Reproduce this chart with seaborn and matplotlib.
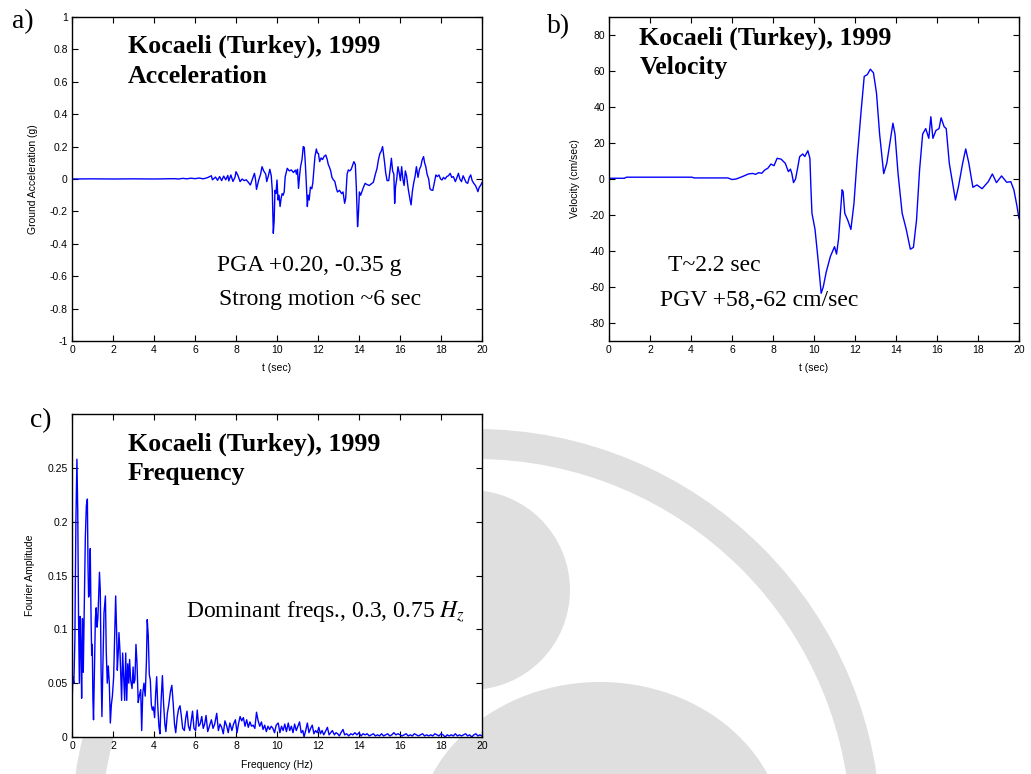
import matplotlib
matplotlib.use("Agg")
import matplotlib.pyplot as plt
from matplotlib.patches import Circle, Ellipse
import numpy as np
import seaborn as sns

# ---------------- data ----------------
# Ground acceleration record (g) against time (s)
t_acc = [0.0, 1.0, 2.0, 3.0, 4.0, 5.0, 5.2, 5.4, 5.6, 5.8, 6.0, 6.2, 6.4, 6.6, 6.8, 6.85,
         7.0, 7.1, 7.2, 7.3, 7.4, 7.5, 7.6, 7.65, 7.75, 7.85, 7.95, 8.0, 8.1, 8.2, 8.3, 8.4,
         8.5, 8.6, 8.7, 8.8, 8.9, 8.95, 9.0, 9.1, 9.2, 9.27, 9.35, 9.45, 9.5, 9.58, 9.65, 9.72,
         9.77, 9.82, 9.86, 9.9, 9.95, 10.0, 10.05, 10.1, 10.15, 10.2, 10.25, 10.3, 10.35, 10.4,
         10.45, 10.5, 10.6, 10.7, 10.8, 10.9, 10.95, 11.0, 11.05, 11.1, 11.15, 11.22, 11.28,
         11.33, 11.38, 11.42, 11.48, 11.52, 11.57, 11.63, 11.7, 11.75, 11.8, 11.85, 11.92,
         11.97, 12.02, 12.08, 12.15, 12.22, 12.3, 12.38, 12.45, 12.5, 12.55, 12.62, 12.68,
         12.75, 12.82, 12.9, 12.95, 13.05, 13.15, 13.22, 13.3, 13.35, 13.42, 13.48, 13.55,
         13.62, 13.7, 13.75, 13.82, 13.87, 13.93, 13.97, 14.02, 14.08, 14.15, 14.22, 14.3,
         14.4, 14.5, 14.6, 14.7, 14.8, 14.88, 14.95, 15.02, 15.08, 15.15, 15.2, 15.25, 15.3,
         15.37, 15.45, 15.52, 15.58, 15.64, 15.7, 15.74, 15.78, 15.84, 15.9, 15.96, 16.02,
         16.08, 16.14, 16.2, 16.26, 16.32, 16.4, 16.48, 16.54, 16.6, 16.66, 16.74, 16.8,
         16.88, 16.95, 17.02, 17.08, 17.15, 17.2, 17.26, 17.32, 17.4, 17.46, 17.52, 17.6,
         17.68, 17.75, 17.82, 17.9, 17.98, 18.05, 18.12, 18.2, 18.28, 18.36, 18.45, 18.52,
         18.6, 18.7, 18.78, 18.85, 18.92, 19.0, 19.08, 19.15, 19.22, 19.3, 19.38, 19.45,
         19.52, 19.6, 19.68, 19.75, 19.8, 19.87, 19.93, 20.0]
acc_g = [0.0, 0.001, 0.0, 0.001, 0.0, 0.002, 0.0, 0.004, 0.001, 0.005, 0.002, 0.006, 0.001,
         0.008, 0.02, -0.005, 0.012, -0.008, 0.015, -0.01, 0.018, -0.005, 0.022, -0.012,
         0.025, -0.015, 0.01, 0.045, 0.02, -0.016, 0.0, -0.01, -0.005, -0.02, -0.037, 0.0,
         0.035, 0.0, -0.064, -0.01, 0.03, 0.076, 0.05, 0.03, -0.016, 0.02, 0.06, 0.02, -0.07,
         -0.335, -0.26, -0.07, -0.09, -0.006, -0.13, -0.1, -0.17, -0.12, -0.09, -0.1, -0.08,
         0.014, 0.04, 0.066, 0.05, 0.056, 0.04, 0.055, 0.03, 0.06, -0.058, 0.02, 0.076, 0.12,
         0.2, 0.195, 0.1, 0.0, -0.17, -0.1, -0.13, -0.05, -0.06, -0.02, 0.06, 0.138, 0.185,
         0.16, 0.158, 0.107, 0.13, 0.12, 0.14, 0.148, 0.12, 0.09, 0.076, 0.05, 0.01, -0.005,
         -0.015, -0.06, -0.08, -0.07, -0.09, -0.08, -0.15, -0.12, 0.03, 0.056, 0.05, 0.06,
         0.09, 0.107, 0.09, -0.05, -0.294, -0.22, -0.08, -0.1, -0.075, -0.05, -0.027, -0.035,
         -0.04, -0.03, -0.02, 0.03, 0.066, 0.12, 0.158, 0.17, 0.2, 0.15, 0.1, 0.04, -0.01,
         -0.01, 0.06, 0.128, 0.05, 0.03, -0.15, -0.05, 0.0, 0.076, 0.04, -0.01, 0.076, 0.0,
         -0.04, 0.05, 0.02, -0.06, -0.12, -0.16, -0.08, -0.03, 0.02, 0.076, 0.01, 0.06, 0.08,
         0.117, 0.138, 0.1, 0.076, 0.03, 0.0, -0.06, -0.068, -0.07, -0.02, 0.025, 0.015,
         0.025, 0.0, -0.006, 0.01, 0.0, 0.015, 0.02, 0.035, 0.01, 0.015, -0.016, 0.01, 0.035,
         0.0, -0.016, 0.02, 0.0, -0.02, -0.027, 0.01, 0.025, -0.01, -0.027, -0.04, -0.06,
         -0.078, -0.05, -0.04, -0.022]

# Ground velocity (cm/s) against time (s)
t_vel = [0.0, 0.75, 0.85, 4.05, 4.15, 5.8, 6.0, 6.2, 6.5, 6.8, 7.0, 7.15, 7.3, 7.45, 7.6,
         7.75, 7.9, 8.05, 8.2, 8.4, 8.6, 8.75, 8.85, 8.92, 9.0, 9.1, 9.2, 9.3, 9.45, 9.55,
         9.7, 9.8, 9.85, 9.9, 10.05, 10.2, 10.35, 10.45, 10.6, 10.8, 10.95, 11.0, 11.1, 11.2,
         11.3, 11.37, 11.42, 11.5, 11.65, 11.8, 11.95, 12.1, 12.3, 12.45, 12.6, 12.75, 12.9,
         13.05, 13.2, 13.4, 13.55, 13.7, 13.85, 13.95, 14.1, 14.3, 14.5, 14.7, 14.85, 15.0,
         15.15, 15.3, 15.45, 15.6, 15.7, 15.8, 15.95, 16.1, 16.2, 16.35, 16.45, 16.6, 16.75,
         16.9, 17.05, 17.25, 17.4, 17.55, 17.75, 17.95, 18.2, 18.5, 18.7, 18.9, 19.15, 19.4,
         19.6, 19.75, 19.9, 20.0]
vel_cms = [0.4, 0.4, 1.0, 1.0, 0.6, 0.6, -0.3, 0.0, 1.3, 2.8, 3.1, 2.6, 3.5, 3.2, 5.0,
           6.0, 8.3, 7.4, 11.5, 11.0, 8.7, 4.1, 5.5, 3.0, -2.0, 0.0, 6.0, 12.4, 13.9, 12.5,
           15.7, 11.5, -5.0, -19.0, -28.0, -45.0, -63.5, -60.0, -51.5, -43.0, -39.0, -37.6,
           -41.7, -33.0, -17.0, -6.0, -7.0, -19.0, -23.0, -28.0, -13.5, 10.6, 38.0, 57.0,
           58.0, 61.0, 59.0, 47.6, 25.0, 3.0, 8.7, 19.8, 31.0, 25.0, 3.0, -19.0, -28.0,
           -39.0, -38.0, -23.0, 5.0, 25.0, 28.0, 22.6, 34.6, 22.6, 27.0, 28.0, 34.0, 29.0,
           28.0, 8.7, -1.5, -11.7, -4.0, 8.7, 16.7, 9.0, -4.6, -3.3, -5.4, -1.5, 2.8, -2.0,
           1.7, -1.8, -1.5, -6.0, -15.0, -22.0]

# Fourier amplitude spectrum of the acceleration record
freq_hz = [0.00, 0.04, 0.09, 0.14, 0.19, 0.24, 0.28, 0.32, 0.36, 0.40, 0.44, 0.47, 0.51,
           0.55, 0.60, 0.65, 0.70, 0.75, 0.78, 0.81, 0.85, 0.89, 0.93, 0.96, 0.99, 1.02,
           1.05, 1.09, 1.14, 1.18, 1.22, 1.26, 1.30, 1.34, 1.38, 1.42, 1.46, 1.50, 1.56,
           1.63, 1.67, 1.72, 1.77, 1.82, 1.87, 1.92, 1.97, 2.03, 2.08, 2.13, 2.18, 2.21,
           2.26, 2.29, 2.34, 2.39, 2.42, 2.47, 2.52, 2.57, 2.62, 2.67, 2.72, 2.77, 2.81,
           2.86, 2.93, 2.98, 3.02, 3.07, 3.12, 3.17, 3.23, 3.28, 3.35, 3.40, 3.45, 3.51,
           3.57, 3.63, 3.67, 3.72, 3.77, 3.82, 3.87, 3.92, 3.97, 4.03, 4.08, 4.13, 4.18,
           4.24, 4.29, 4.35, 4.41, 4.47, 4.53, 4.58, 4.65, 4.72, 4.80, 4.87, 4.94, 5.00,
           5.06, 5.13, 5.20, 5.27, 5.33, 5.40, 5.48, 5.55, 5.61, 5.68, 5.75, 5.82, 5.88,
           5.95, 6.03, 6.11, 6.18, 6.25, 6.33, 6.40, 6.47, 6.54, 6.62, 6.70, 6.80, 6.88,
           6.96, 7.06, 7.14, 7.22, 7.30, 7.38, 7.46, 7.55, 7.62, 7.70, 7.80, 7.88, 7.97,
           8.05, 8.12, 8.20, 8.28, 8.36, 8.44, 8.52, 8.60, 8.68, 8.76, 8.84, 8.92, 9.00,
           9.08, 9.16, 9.24, 9.32, 9.40, 9.48, 9.56, 9.64, 9.72, 9.80, 9.88, 9.96, 10.06,
           10.14, 10.22, 10.30, 10.38, 10.46, 10.55, 10.62, 10.70, 10.78, 10.86, 10.94,
           11.02, 11.10, 11.18, 11.26, 11.32, 11.40, 11.48, 11.56, 11.64, 11.72, 11.80,
           11.88, 11.96, 12.04, 12.12, 12.20, 12.28, 12.36, 12.46, 12.54, 12.62, 12.70,
           12.80, 12.88, 12.96, 13.04, 13.12, 13.22, 13.30, 13.40, 13.50, 13.60, 13.70,
           13.80, 13.90, 14.00, 14.10, 14.20, 14.30, 14.40, 14.50, 14.60, 14.70, 14.80,
           14.90, 15.00, 15.10, 15.20, 15.30, 15.40, 15.50, 15.60, 15.70, 15.80, 15.90,
           16.00, 16.10, 16.20, 16.30, 16.40, 16.50, 16.60, 16.70, 16.80, 16.90, 17.00,
           17.10, 17.20, 17.30, 17.40, 17.50, 17.60, 17.70, 17.80, 17.90, 18.00, 18.10,
           18.20, 18.30, 18.40, 18.50, 18.60, 18.70, 18.80, 18.90, 19.00, 19.10, 19.20,
           19.30, 19.40, 19.50, 19.60, 19.70, 19.80, 19.90, 20.00]
fourier_amp = [0.028, 0.056, 0.050, 0.090, 0.200, 0.258, 0.210, 0.110, 0.050, 0.112, 0.080,
               0.036, 0.110, 0.060, 0.120, 0.185, 0.215, 0.221, 0.160, 0.130, 0.133, 0.175,
               0.110, 0.076, 0.086, 0.035, 0.016, 0.060, 0.110, 0.120, 0.102, 0.110, 0.130,
               0.153, 0.136, 0.060, 0.019, 0.060, 0.115, 0.131, 0.080, 0.050, 0.066, 0.050,
               0.013, 0.030, 0.038, 0.055, 0.093, 0.131, 0.095, 0.062, 0.080, 0.097, 0.080,
               0.050, 0.034, 0.078, 0.055, 0.034, 0.078, 0.034, 0.068, 0.050, 0.072, 0.053,
               0.045, 0.065, 0.050, 0.053, 0.086, 0.069, 0.032, 0.038, 0.044, 0.006, 0.040,
               0.050, 0.038, 0.070, 0.109, 0.094, 0.058, 0.053, 0.030, 0.025, 0.028, 0.018,
               0.040, 0.056, 0.030, 0.010, 0.003, 0.035, 0.057, 0.030, 0.012, 0.005, 0.022,
               0.030, 0.042, 0.048, 0.030, 0.012, 0.004, 0.018, 0.026, 0.029, 0.020, 0.008,
               0.006, 0.018, 0.024, 0.010, 0.006, 0.016, 0.024, 0.008, 0.006, 0.025, 0.010,
               0.012, 0.019, 0.008, 0.012, 0.020, 0.005, 0.010, 0.016, 0.008, 0.012, 0.022,
               0.006, 0.012, 0.009, 0.003, 0.015, 0.010, 0.004, 0.013, 0.006, 0.012, 0.016,
               0.004, 0.012, 0.019, 0.015, 0.018, 0.010, 0.016, 0.009, 0.014, 0.010, 0.011,
               0.008, 0.023, 0.015, 0.010, 0.014, 0.007, 0.011, 0.005, 0.010, 0.007, 0.010,
               0.008, 0.004, 0.011, 0.013, 0.004, 0.010, 0.006, 0.012, 0.005, 0.013, 0.006,
               0.010, 0.004, 0.012, 0.006, 0.010, 0.014, 0.004, 0.006, 0.000, 0.006, 0.013,
               0.004, 0.008, 0.011, 0.003, 0.006, 0.004, 0.009, 0.003, 0.006, 0.002, 0.005,
               0.009, 0.002, 0.004, 0.006, 0.002, 0.004, 0.003, 0.001, 0.004, 0.007, 0.002,
               0.003, 0.001, 0.003, 0.002, 0.004, 0.002, 0.004, 0.001, 0.003, 0.002, 0.003,
               0.001, 0.002, 0.003, 0.001, 0.002, 0.001, 0.003, 0.001, 0.002, 0.003, 0.001,
               0.002, 0.004, 0.002, 0.003, 0.002, 0.001, 0.002, 0.003, 0.001, 0.002, 0.001,
               0.003, 0.002, 0.001, 0.002, 0.003, 0.001, 0.002, 0.001, 0.002, 0.001, 0.003,
               0.002, 0.001, 0.003, 0.002, 0.000, 0.002, 0.001, 0.002, 0.001, 0.003, 0.001,
               0.002, 0.001, 0.002, 0.003, 0.001, 0.002, 0.000, 0.002, 0.003, 0.001, 0.002,
               0.001]

time_ticks = [0, 2, 4, 6, 8, 10, 12, 14, 16, 18, 20]
acc_ticks = [-1, -0.8, -0.6, -0.4, -0.2, 0, 0.2, 0.4, 0.6, 0.8, 1]
acc_tick_labels = ["-1", "-0.8", "-0.6", "-0.4", "-0.2", "0", "0.2", "0.4", "0.6", "0.8", "1"]
vel_ticks = [-80, -60, -40, -20, 0, 20, 40, 60, 80]
amp_ticks = [0, 0.05, 0.1, 0.15, 0.2, 0.25]
amp_tick_labels = ["0", "0.05", "0.1", "0.15", "0.2", "0.25"]

# ---------------- style ----------------
sns.set_style("ticks")
plt.rcParams["font.family"] = ["Liberation Sans", "DejaVu Sans"]
plt.rcParams["mathtext.fontset"] = "stix"
plt.rcParams["axes.unicode_minus"] = False
plt.rcParams["axes.linewidth"] = 1.0
plt.rcParams["axes.edgecolor"] = "black"
plt.rcParams["text.color"] = "black"
plt.rcParams["axes.labelcolor"] = "black"
plt.rcParams["xtick.color"] = "black"
plt.rcParams["ytick.color"] = "black"

SERIF = "Liberation Serif"
LINE = "#0000ff"
WM = "#dfdfdf"
TITLE_SIZE = 18.6
NOTE_SIZE = 17

fig = plt.figure(figsize=(10.31, 7.74), dpi=100)
fig.patch.set_facecolor("white")

# faint institutional seal in the background (pixel positions -> inches)
def px(x, y):
    return (x / 100.0, (774 - y) / 100.0)

seal = [
    Circle(px(476, 834), 3.90, fill=False, lw=21.6, ec=WM, zorder=-5),
    Circle(px(470, 590), 1.00, fc=WM, ec="none", zorder=-5),
    Ellipse(px(600, 842), 3.7, 3.2, fc=WM, ec="none", zorder=-5),
]
for p in seal:
    p.set_transform(fig.dpi_scale_trans)
    fig.add_artist(p)

ax_a = fig.add_axes([72 / 1031, 1 - 341 / 774, 410 / 1031, 324 / 774])
ax_b = fig.add_axes([609 / 1031, 1 - 341 / 774, 410 / 1031, 324 / 774])
ax_c = fig.add_axes([72 / 1031, 1 - 737 / 774, 410 / 1031, 323 / 774])


def frame(ax):
    ax.set_facecolor("white")
    for s in ax.spines.values():
        s.set_visible(True)
        s.set_linewidth(1.0)
        s.set_color("black")
    ax.tick_params(direction="in", top=True, right=True, length=4, width=0.8,
                   labelsize=7.5, pad=3, colors="black")
    ax.grid(False)


def heading(ax, x, y1, y2, line1, line2):
    ax.text(x, y1, line1, family=SERIF, fontweight="bold", fontsize=TITLE_SIZE,
            va="baseline")
    ax.text(x, y2, line2, family=SERIF, fontweight="bold", fontsize=TITLE_SIZE,
            va="baseline")


# a) acceleration
sns.lineplot(x=t_acc, y=acc_g, ax=ax_a, color=LINE, linewidth=1.0,
             estimator=None, sort=False)
ax_a.set_xlim(0, 20)
ax_a.set_ylim(-1, 1)
ax_a.set_xticks(time_ticks)
ax_a.set_yticks(acc_ticks)
ax_a.set_yticklabels(acc_tick_labels)
ax_a.set_xlabel("t (sec)", fontsize=7.5)
ax_a.set_ylabel("Ground Acceleration (g)", fontsize=7.5)
frame(ax_a)
ax_a.xaxis.set_label_coords(0.5, -0.068)
ax_a.yaxis.set_label_coords(-0.083, 0.5)
heading(ax_a, 2.73, 0.78, 0.594, "Kocaeli (Turkey), 1999", "Acceleration")
ax_a.text(7.07, -0.566, "PGA +0.20, -0.35 g", family=SERIF, fontsize=NOTE_SIZE,
          va="baseline")
ax_a.text(7.17, -0.778, "Strong motion ~6 sec", family=SERIF, fontsize=NOTE_SIZE,
          va="baseline")

# b) velocity
sns.lineplot(x=t_vel, y=vel_cms, ax=ax_b, color=LINE, linewidth=1.0,
             estimator=None, sort=False)
ax_b.set_xlim(0, 20)
ax_b.set_ylim(-90, 90)
ax_b.set_xticks(time_ticks)
ax_b.set_yticks(vel_ticks)
ax_b.set_xlabel("t (sec)", fontsize=7.5)
ax_b.set_ylabel("Velocity (cm/sec)", fontsize=7.5)
frame(ax_b)
ax_b.xaxis.set_label_coords(0.5, -0.068)
ax_b.yaxis.set_label_coords(-0.071, 0.5)
heading(ax_b, 1.48, 74.8, 58.3, "Kocaeli (Turkey), 1999", "Velocity")
ax_b.text(2.88, -50.9, "T~2.2 sec", family=SERIF, fontsize=NOTE_SIZE, va="baseline")
ax_b.text(2.49, -70.6, "PGV +58,-62 cm/sec", family=SERIF, fontsize=NOTE_SIZE,
          va="baseline")

# c) Fourier spectrum
sns.lineplot(x=freq_hz, y=fourier_amp, ax=ax_c, color=LINE, linewidth=1.0,
             estimator=None, sort=False)
ax_c.set_xlim(0, 20)
ax_c.set_ylim(0, 0.3)
ax_c.set_xticks(time_ticks)
ax_c.set_yticks(amp_ticks)
ax_c.set_yticklabels(amp_tick_labels)
ax_c.set_xlabel("Frequency (Hz)", fontsize=7.5)
ax_c.set_ylabel("Fourier Amplitude", fontsize=7.5)
frame(ax_c)
ax_c.xaxis.set_label_coords(0.5, -0.071)
ax_c.yaxis.set_label_coords(-0.09, 0.5)
heading(ax_c, 2.73, 0.266, 0.239, "Kocaeli (Turkey), 1999", "Frequency")
ax_c.text(5.56, 0.1118, r"Dominant freqs., 0.3, 0.75 $\mathit{H}_{z}$", family=SERIF,
          fontsize=NOTE_SIZE, va="baseline")

# panel letters
fig.text(12 / 1031, 1 - 28 / 774, "a)", family=SERIF, fontsize=20, va="baseline")
fig.text(547 / 1031, 1 - 33 / 774, "b)", family=SERIF, fontsize=20, va="baseline")
fig.text(30 / 1031, 1 - 427 / 774, "c)", family=SERIF, fontsize=20, va="baseline")

fig.savefig("out.png", dpi=100, facecolor="white")
